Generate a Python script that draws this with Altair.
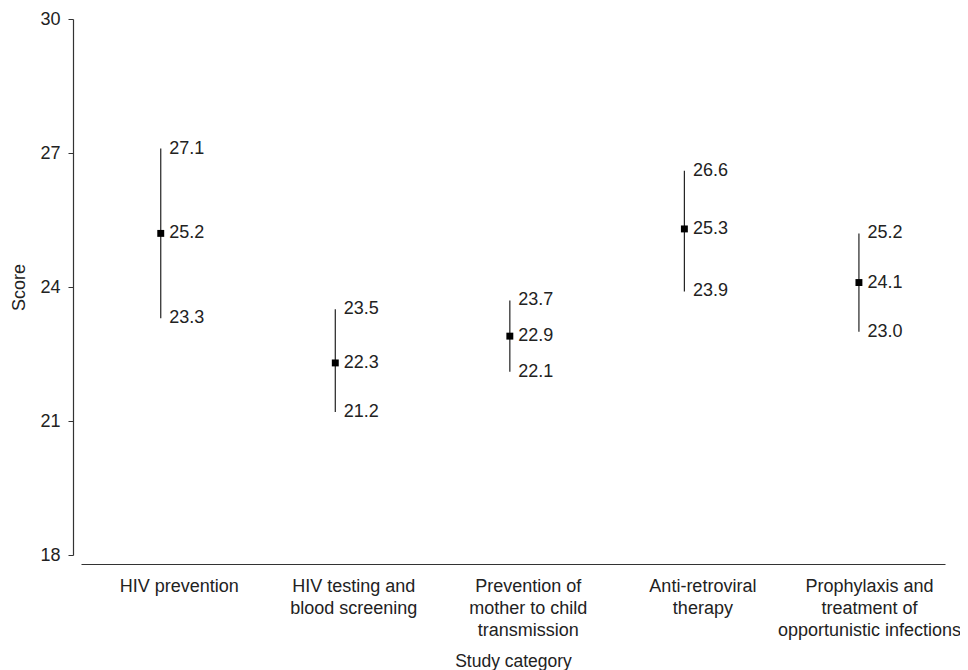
import altair as alt
import pandas as pd

categories = [
    "HIV prevention",
    "HIV testing and|blood screening",
    "Prevention of|mother to child|transmission",
    "Anti-retroviral|therapy",
    "Prophylaxis and|treatment of|opportunistic infections",
]
mean_score = [25.2, 22.3, 22.9, 25.3, 24.1]
lower_ci = [23.3, 21.2, 22.1, 23.9, 23.0]
upper_ci = [27.1, 23.5, 23.7, 26.6, 25.2]
y_ticks = [18, 21, 24, 27, 30]

pos = list(range(1, len(categories) + 1))
df = pd.DataFrame({"pos": pos, "cat": categories, "mean": mean_score,
                   "lo": lower_ci, "hi": upper_ci})
long = df.melt(id_vars=["pos"], value_vars=["lo", "mean", "hi"],
               var_name="kind", value_name="val")

FONT = "Liberation Sans"
FS = 18
DARK = "#222222"

arr = "[" + ", ".join("'" + c + "'" for c in categories) + "]"
label_expr = f"split({arr}[datum.value - 1], '|')"

xscale = alt.Scale(domain=[0.44, 5.39], nice=False, zero=False)
yscale = alt.Scale(domain=[18, 30], nice=False, zero=False)

xaxis = alt.Axis(values=pos, labelExpr=label_expr, ticks=False, grid=False,
                 domainColor="#333333", domainWidth=1.2, labelFont=FONT,
                 labelFontSize=18, labelColor=DARK, labelLineHeight=22,
                 labelPadding=13, labelOverlap=False, labelFlush=False,
                 labelBound=False, labelLimit=0, offset=9,
                 labelOffset={"condition": {"test": "datum.value == 5", "value": -8}, "value": 0},
                 title="Study category",
                 titleFont=FONT, titleFontSize=17.5, titleFontWeight="normal",
                 titleColor=DARK, titlePadding=13)
yaxis = alt.Axis(values=y_ticks, grid=False, offset=8, tickSize=5,
                 tickColor="#333333", domainColor="#333333", domainWidth=1.2,
                 labelFont=FONT, labelFontSize=FS, labelColor=DARK,
                 labelPadding=8, title="Score", titleFont=FONT,
                 titleFontSize=18, titleFontWeight="normal", titleColor=DARK,
                 titlePadding=11)

base = alt.Chart(df)

rules = base.mark_rule(color=DARK, strokeWidth=1.2, xOffset=-18).encode(
    x=alt.X("pos:Q", scale=xscale, axis=xaxis),
    y=alt.Y("lo:Q", scale=yscale, axis=yaxis),
    y2="hi:Q",
)
points = base.mark_square(color="black", size=48, opacity=1, xOffset=-18).encode(
    x=alt.X("pos:Q", scale=xscale),
    y=alt.Y("mean:Q", scale=yscale),
)
labels = alt.Chart(long).mark_text(
    align="left", baseline="middle", xOffset=-18, dx=8.5,
    font=FONT, fontSize=FS, color=DARK,
).encode(
    x=alt.X("pos:Q", scale=xscale),
    y=alt.Y("val:Q", scale=yscale),
    text=alt.Text("val:Q", format=".1f"),
)

chart = (rules + points + labels).properties(
    width=864, height=536,
    background="white",
    autosize=alt.AutoSizeParams(type="none"),
    padding={"left": 73, "top": 11, "right": 15, "bottom": 118},
).configure_view(stroke=None)

chart.save("out.html", embed_options={"renderer": "svg", "actions": False})
